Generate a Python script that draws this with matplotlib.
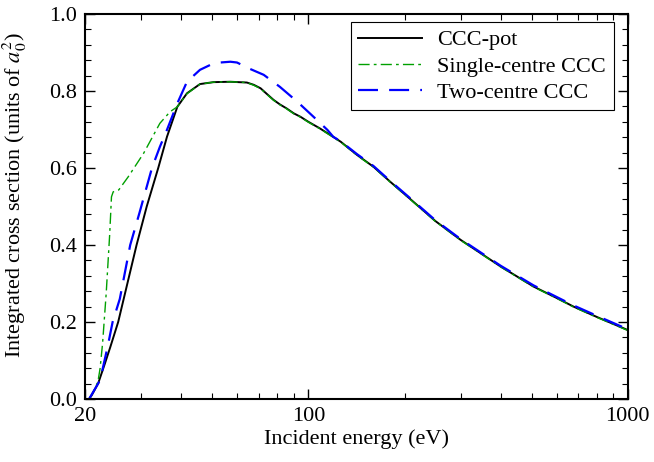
import numpy as np
import matplotlib
matplotlib.use('Agg')
import matplotlib.pyplot as plt
from matplotlib.ticker import FixedLocator, NullFormatter, FixedFormatter, FormatStrFormatter

# CCC-pot
e_pot = [20.6, 21.0, 22.0, 23.1, 24.0, 25.4, 29.0, 31.2, 33.9, 36.1, 38.9,
         41.7, 45.8, 50.5, 57.0, 64.2, 67.5, 70.9, 74.0, 77.8, 81.5, 85.4, 90.0,
         94.5, 100, 108.6, 117, 126.4, 142, 160, 180, 210, 250, 300, 350, 400,
         507, 600, 676, 800, 1000]
s_pot = [0.0, 0.01, 0.041, 0.093, 0.135, 0.2, 0.4, 0.5, 0.60, 0.681, 0.759,
         0.794, 0.818, 0.823, 0.824, 0.822, 0.816, 0.807, 0.793, 0.777, 0.765, 0.755, 0.742,
         0.733, 0.720, 0.703, 0.686, 0.668, 0.634, 0.603, 0.565, 0.517, 0.462, 0.413, 0.376, 0.344,
         0.292, 0.262, 0.240, 0.213, 0.179]

# Single-centre CCC
e_single = [20.6, 21.0, 21.6, 22.0, 22.3, 22.7, 23.3, 23.9, 24.2, 24.5, 25.5, 27.3,
            30.5, 34.3, 36.9, 38.9, 41.7, 45.8, 50.5, 57.0, 64.2, 67.5, 70.9,
            74.0, 77.8, 81.5, 85.4, 90.0, 94.5, 100, 108.6, 117, 126.4, 142, 160, 180,
            210, 250, 300, 350, 400, 507, 600, 676, 800, 1000]
s_single = [0.0, 0.012, 0.03, 0.05, 0.08, 0.145, 0.275, 0.43, 0.525, 0.538, 0.543, 0.577,
            0.638, 0.716, 0.746, 0.759, 0.793, 0.818, 0.823, 0.824, 0.822, 0.815, 0.806,
            0.792, 0.776, 0.764, 0.754, 0.741, 0.732, 0.719, 0.702, 0.685, 0.667, 0.633, 0.602,
            0.564, 0.516, 0.461, 0.412, 0.375, 0.343, 0.291, 0.261, 0.239, 0.212, 0.178]

# Two-centre CCC
e_two = [20.6, 21.0, 21.8, 22.3, 23.6, 24.4, 25.7, 27.7, 29.6, 32.4, 34.3, 36.1,
         38.9, 41.7, 45.8, 49.4, 53.0, 57.0, 59.8, 65.0, 72.5, 81.4, 92.4, 103.8,
         114.7, 119.7, 126.4, 142, 160, 180, 210, 250, 300, 400, 507, 676, 800, 1000]
s_two = [0.0, 0.012, 0.035, 0.049, 0.14, 0.2, 0.26, 0.4, 0.483, 0.6, 0.655, 0.699,
         0.768, 0.824, 0.855, 0.868, 0.874, 0.876, 0.874, 0.859, 0.842, 0.811, 0.772, 0.733,
         0.699, 0.681, 0.669, 0.636, 0.605, 0.567, 0.519, 0.464, 0.415, 0.346, 0.295, 0.243,
         0.216, 0.181]

plt.rcParams['font.family'] = 'Liberation Serif'
plt.rcParams['mathtext.fontset'] = 'stix'
plt.rcParams['font.size'] = 16

fig = plt.figure(figsize=(6.54, 4.62), dpi=100)
ax = fig.add_axes([0.130, 0.1364, 0.830, 0.8333])

ax.plot(e_pot, s_pot, color='black', lw=1.4, label='CCC-pot')
ax.plot(e_single, s_single, color='#00a000', lw=1.0, dashes=(8, 3, 2, 3),
        label='Single-centre CCC')
ax.plot(e_two, s_two, color='#0000ff', lw=1.6, dashes=(9, 5),
        label='Two-centre CCC')

ax.set_xscale('log')
ax.set_xlim(20, 1000)
ax.set_ylim(0, 1.0)

ax.xaxis.set_major_locator(FixedLocator([20, 100, 1000]))
ax.xaxis.set_major_formatter(FixedFormatter(['20', '100', '1000']))
ax.xaxis.set_minor_locator(FixedLocator([30, 40, 50, 60, 70, 80, 90,
                                         200, 300, 400, 500, 600, 700, 800, 900]))
ax.xaxis.set_minor_formatter(NullFormatter())
ax.set_yticks(np.arange(0, 1.01, 0.2))
ax.set_yticks(np.arange(0, 1.01, 0.04), minor=True)
ax.yaxis.set_major_formatter(FormatStrFormatter('%.1f'))

ax.tick_params(which='both', direction='in', top=True, right=True)
ax.tick_params(which='major', length=7, width=1, pad=6)
ax.tick_params(which='minor', length=4, width=0.8)
for sp in ax.spines.values():
    sp.set_linewidth(1.5)

ax.set_xlabel('Incident energy (eV)', labelpad=2)
ax.set_ylabel('Integrated cross section (units of $a_0^2$)')
ax.yaxis.set_label_coords(-0.103, 0.53)

leg = ax.legend(loc='upper right', fancybox=False, edgecolor='black',
                framealpha=1, handlelength=2.85, handletextpad=0.7,
                borderpad=0.35, labelspacing=0.25,
                bbox_to_anchor=(0.974, 0.979), borderaxespad=0)
leg.get_frame().set_linewidth(0.8)

plt.savefig('out.png', dpi=100)
